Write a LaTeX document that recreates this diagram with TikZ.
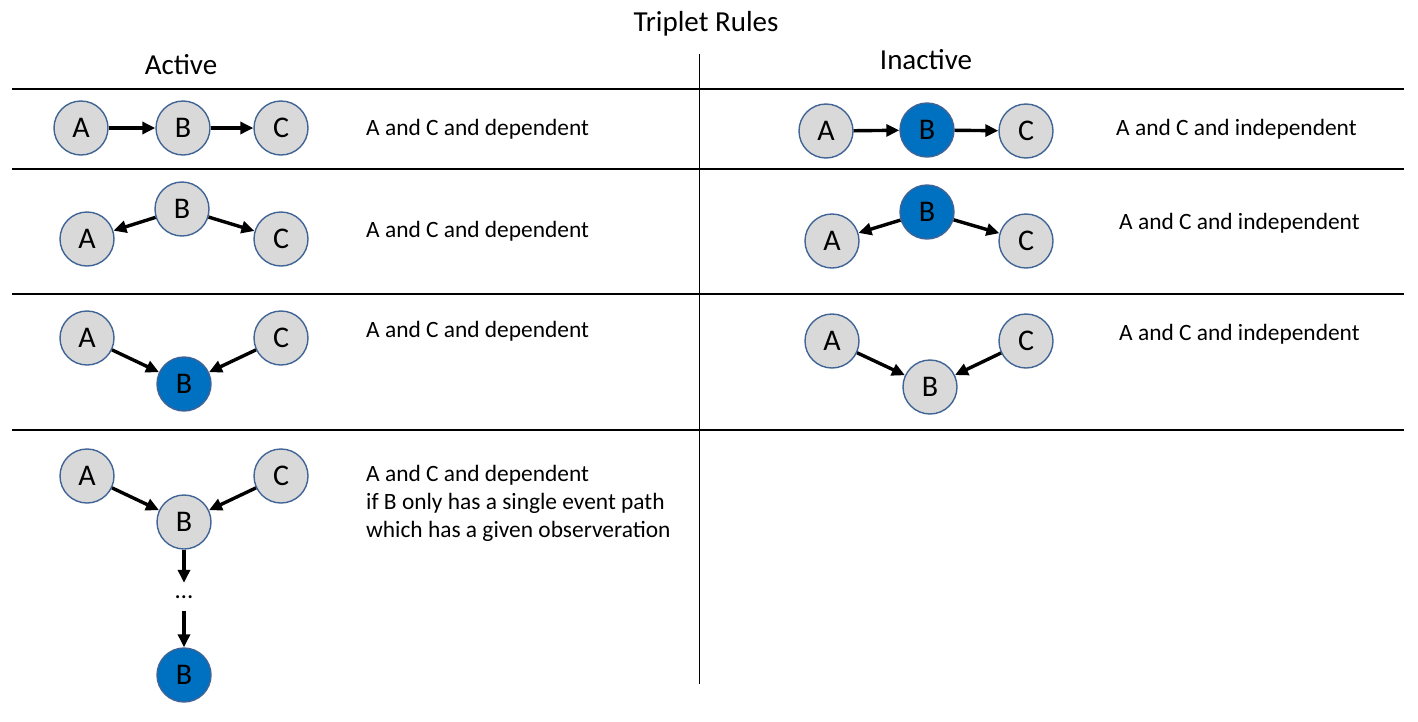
\documentclass[tikz,border=0pt]{standalone}
\usepackage{fontspec}
\setmainfont{Carlito}
\usetikzlibrary{arrows.meta}
\definecolor{ringblue}{RGB}{65,100,150}
\definecolor{nodegrey}{RGB}{217,217,217}
\definecolor{obsblue}{RGB}{0,112,192}
\tikzset{
  var/.style={circle,draw=ringblue,line width=1.4pt,fill=nodegrey,minimum size=54pt,inner sep=0pt,font=\fontsize{30}{34}\selectfont},
  obs/.style={var,fill=obsblue},
  arr/.style={line width=3.4pt,-{Triangle[length=13pt,width=12pt]}},
  rule/.style={anchor=base west,inner xsep=0pt,font=\fontsize{23.4}{28}\selectfont},
  head/.style={anchor=base,font=\fontsize{29}{34}\selectfont}
}

\begin{document}
\begin{tikzpicture}[x=1pt,y=-1pt]
  \useasboundingbox (0,0) rectangle (1418,721);

  \node[head] (title) at (706,31) {Triplet Rules};
  \node[head] (active) at (181,74) {Active};
  \node[head] (inactive) at (926,69) {Inactive};

  % grid
  \draw[line width=1.2pt] (12,89) -- (1404,89);
  \draw[line width=1.2pt] (12,169) -- (1404,169);
  \draw[line width=1.2pt] (12,294) -- (1404,294);
  \draw[line width=1.2pt] (12,430) -- (1404,430);
  \draw[line width=1pt] (699,54) -- (699,684);

  % active, row 1
  \node[var] (a1) at (81,128) {A};
  \node[var] (b1) at (183,128) {B};
  \node[var] (c1) at (281,128) {C};
  \draw[arr] (a1) -- (b1);
  \draw[arr] (b1) -- (c1);
  \node[rule] (t1) at (366,135) {A and C and dependent};

  % active, row 2
  \node[var] (a2) at (87,239) {A};
  \node[var] (b2) at (182,209) {B};
  \node[var] (c2) at (281,239) {C};
  \draw[arr] (b2) -- (a2);
  \draw[arr] (b2) -- (c2);
  \node[rule] (t2) at (366,237) {A and C and dependent};

  % active, row 3
  \node[var] (a3) at (87,338) {A};
  \node[obs] (b3) at (184,384) {B};
  \node[var] (c3) at (281,338) {C};
  \draw[arr] (a3) -- (b3);
  \draw[arr] (c3) -- (b3);
  \node[rule] (t3) at (366,337) {A and C and dependent};

  % active, row 4
  \node[var] (a4) at (87,476) {A};
  \node[var] (b4) at (184,522) {B};
  \node[var] (c4) at (281,476) {C};
  \node[minimum height=28pt,inner sep=0pt,font=\fontsize{25}{28}\selectfont] (dots) at (184,597) {\dots};
  \node[obs] (b5) at (184,675) {B};
  \draw[arr] (a4) -- (b4);
  \draw[arr] (c4) -- (b4);
  \draw[arr] (b4) -- (dots);
  \draw[arr] (dots) -- (b5);
  \node[rule,align=left,anchor=north west] (t4) at (366,462)
    {\fontsize{23.4}{27.5}\selectfont A and C and dependent\\if B only has a single event path\\which has a given observeration};

  % inactive, row 1
  \node[var] (ia1) at (826,131) {A};
  \node[obs] (ib1) at (927,130) {B};
  \node[var] (ic1) at (1026,131) {C};
  \draw[arr] (ia1) -- (ib1);
  \draw[arr] (ib1) -- (ic1);
  \node[rule] (it1) at (1116,135) {A and C and independent};

  % inactive, row 2
  \node[var] (ia2) at (832,241) {A};
  \node[obs] (ib2) at (927,212) {B};
  \node[var] (ic2) at (1026,241) {C};
  \draw[arr] (ib2) -- (ia2);
  \draw[arr] (ib2) -- (ic2);
  \node[rule] (it2) at (1119,229) {A and C and independent};

  % inactive, row 3
  \node[var] (ia3) at (832,341) {A};
  \node[var] (ib3) at (930,387) {B};
  \node[var] (ic3) at (1026,341) {C};
  \draw[arr] (ia3) -- (ib3);
  \draw[arr] (ic3) -- (ib3);
  \node[rule] (it3) at (1119,340) {A and C and independent};
\end{tikzpicture}
\end{document}
